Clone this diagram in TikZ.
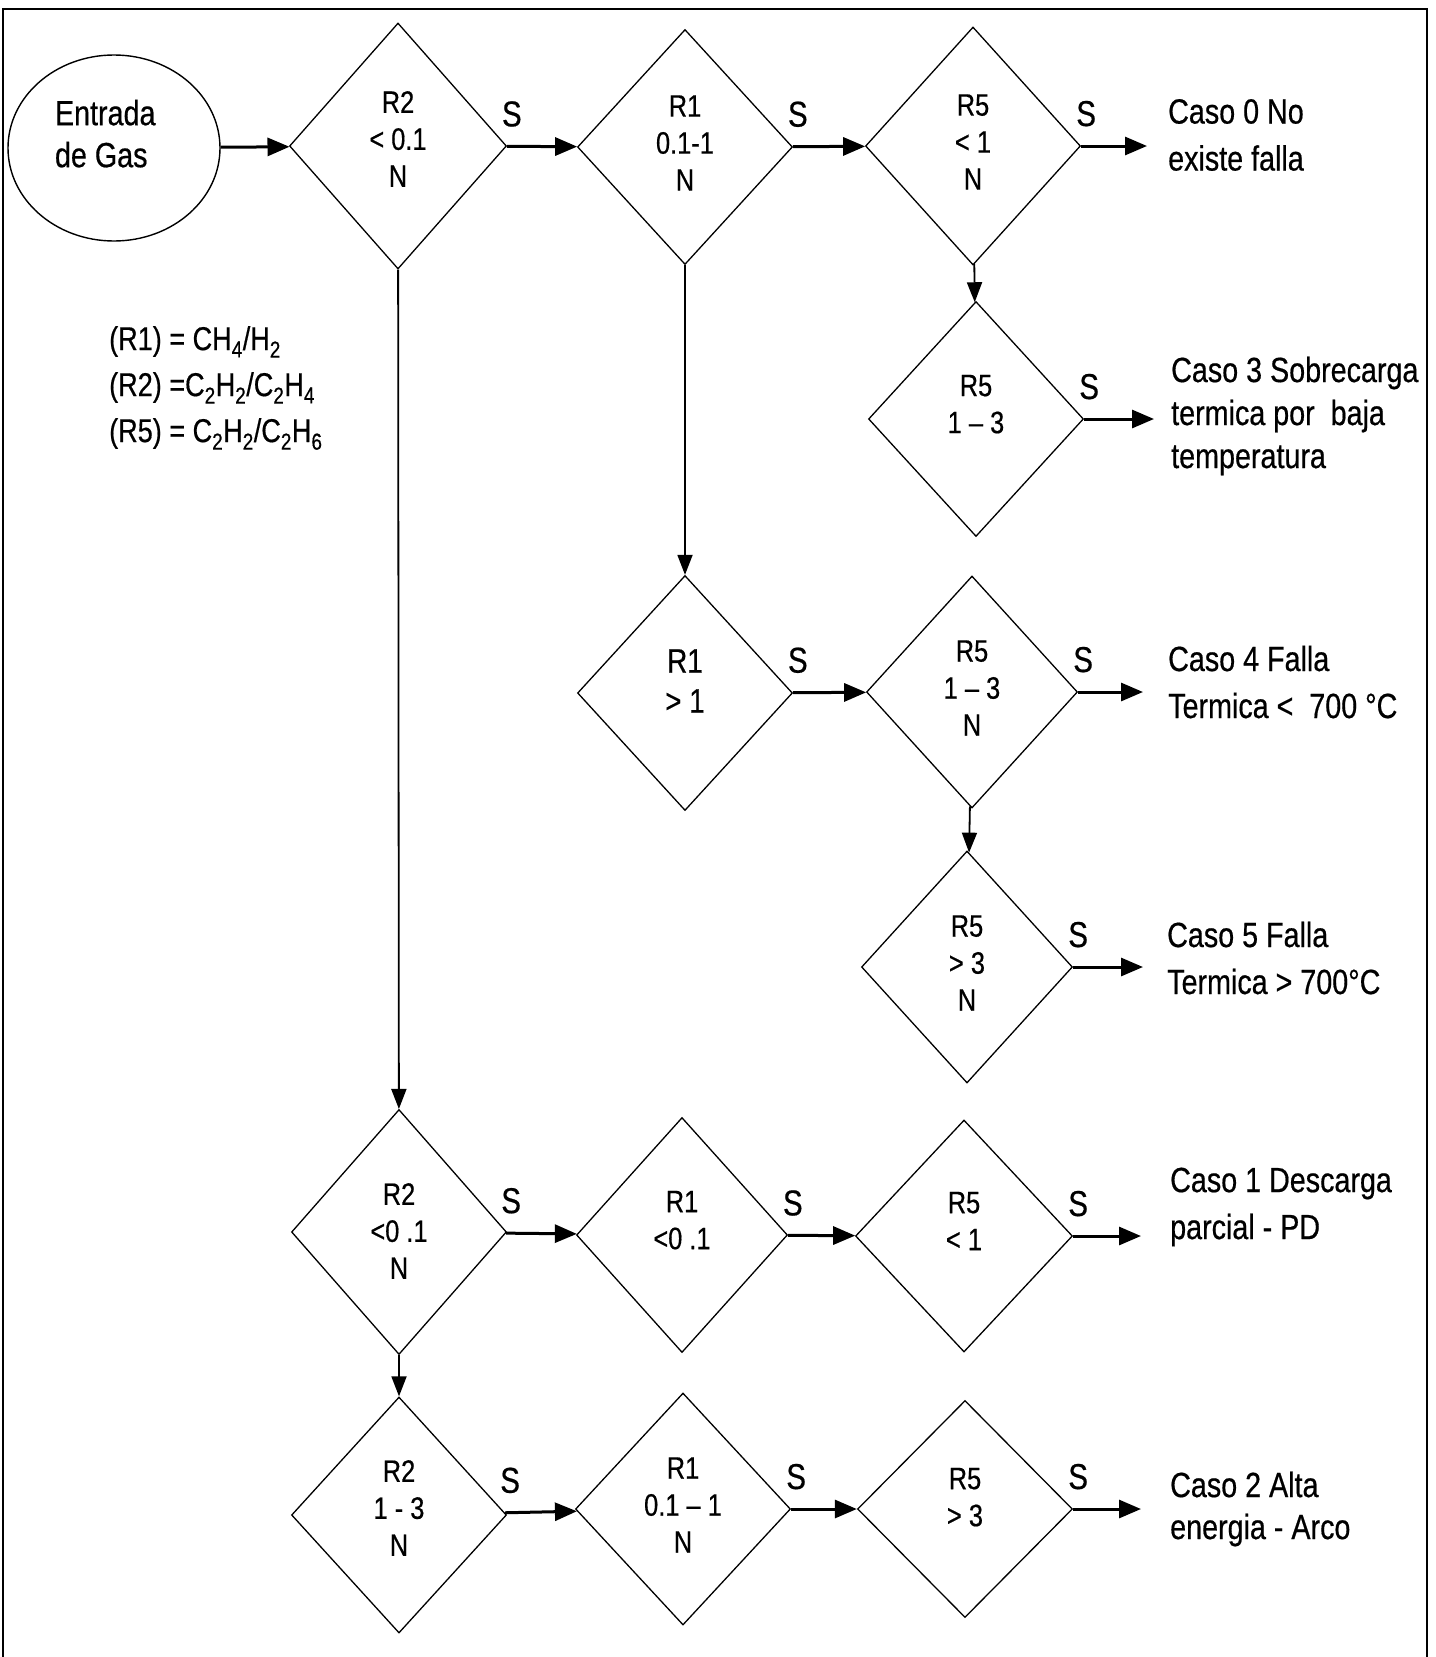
\documentclass[tikz,border=0pt]{standalone}
\usepackage{fontspec}
\setmainfont[FakeStretch=0.82,FakeBold=0.5]{Liberation Sans}
\usetikzlibrary{shapes.geometric,arrows.meta}
\begin{document}
\begin{tikzpicture}[x=1pt,y=-1pt,
  dec/.style={draw, diamond, line width=1.3pt, inner sep=0pt, align=center, text depth=8pt,
    minimum width=215pt, minimum height=235pt, font=\fontsize{31}{37}\selectfont},
  two/.style={text depth=30pt},
  arr/.style={line width=3pt, -{Triangle[length=22pt,width=18pt]}},
  down/.style={line width=1.8pt, -{Triangle[length=20pt,width=15pt]}},
  slab/.style={anchor=base, inner sep=0pt, xshift=5pt, yshift=20pt, font=\fontsize{36}{40}\selectfont},
  caso/.style={anchor=west, align=left, inner sep=0pt, font=\fontsize{35}{47}\selectfont}]
\useasboundingbox (0,0) rectangle (1435,1657);
\draw[line width=1.6pt] (3,1657) -- (3,9) -- (1427,9) -- (1427,1657);
\node[draw, ellipse, line width=1.4pt, minimum width=212pt, minimum height=186pt, align=flush left,
  text width=118pt, text depth=71pt, font=\fontsize{35}{42}\selectfont] (ent) at (114,148) {Entrada\\de Gas};
\node[anchor=west, align=left, inner sep=0pt, font=\fontsize{33}{46}\selectfont] (leg) at (109,388)
  {(R1) = CH\textsubscript{4}/H\textsubscript{2}\\
   (R2) =C\textsubscript{2}H\textsubscript{2}/C\textsubscript{2}H\textsubscript{4}\\
   (R5) = C\textsubscript{2}H\textsubscript{2}/C\textsubscript{2}H\textsubscript{6}};
% first row
\node[dec, minimum width=217pt, minimum height=246pt, text depth=14pt] (d1) at (398,146) {R2\\< 0.1\\N};
\node[dec] (d2) at (685,147) {R1\\0.1-1\\N};
\node[dec, minimum height=238pt] (d3) at (973,146) {R5\\< 1\\N};
\node[dec, two] (d4) at (976,419) {R5\\1 -- 3};
% middle
\node[dec, two, text depth=24pt, font=\fontsize{34}{40}\selectfont] (d5) at (685,693) {R1\\> 1};
\node[dec, minimum width=211pt, minimum height=232pt] (d6) at (972,692) {R5\\1 -- 3\\N};
\node[dec, minimum width=211pt, minimum height=232pt] (d7) at (967,967) {R5\\> 3\\N};
% bottom rows
\node[dec, minimum height=245pt, text depth=2pt] (d8) at (399,1232) {R2\\<0 .1\\N};
\node[dec, two, minimum width=211pt] (d9) at (682,1235) {R1\\<0 .1};
\node[dec, two, minimum width=217pt, minimum height=232pt] (d10) at (964,1236) {R5\\< 1};
\node[dec, minimum height=236pt, text depth=14pt] (d11) at (399,1515) {R2\\1 - 3\\N};
\node[dec, minimum height=232pt] (d12) at (683,1509) {R1\\0.1 -- 1\\N};
\node[dec, two, text depth=24pt, minimum height=217pt] (d13) at (965,1509) {R5\\> 3};
% results
\coordinate (e0) at (1147,146);
\coordinate (e3) at (1154,419);
\coordinate (e4) at (1143,692);
\coordinate (e5) at (1143,967);
\coordinate (e1) at (1141,1236);
\coordinate (e2) at (1141,1509);
\node[caso] (c0) at (1168,135) {Caso 0 No\\existe falla};
\node[caso, font=\fontsize{35}{43}\selectfont] (c3) at (1171,416) {Caso 3 Sobrecarga\\termica por\ \ baja\\temperatura};
\node[caso] (c4) at (1168,682) {Caso 4 Falla\\Termica <\ \ 700 °C};
\node[caso] (c5) at (1167,958) {Caso 5 Falla\\Termica > 700°C};
\node[caso] (c1) at (1170,1207) {Caso 1 Descarga\\parcial - PD};
\node[caso, font=\fontsize{35}{42}\selectfont] (c2) at (1170,1509) {Caso 2 Alta\\energia - Arco};
\draw[arr] (ent) -- (d1);
\draw[arr] (d1) -- node[slab, pos=0]{S} (d2);
\draw[arr] (d2) -- node[slab, pos=0]{S} (d3);
\draw[arr] (d3) -- node[slab, pos=0]{S} (e0);
\draw[down] (d3) -- (d4);
\draw[arr] (d4) -- node[slab, pos=0]{S} (e3);
\draw[down] (d2) -- (d5);
\draw[arr] (d5) -- node[slab, pos=0]{S} (d6);
\draw[arr] (d6) -- node[slab, pos=0]{S} (e4);
\draw[down] (d6) -- (d7);
\draw[arr] (d7) -- node[slab, pos=0]{S} (e5);
\draw[down] (d1) -- (d8);
\draw[arr] (d8) -- node[slab, pos=0]{S} (d9);
\draw[arr] (d9) -- node[slab, pos=0]{S} (d10);
\draw[arr] (d10) -- node[slab, pos=0]{S} (e1);
\draw[down] (d8) -- (d11);
\draw[arr] (d11) -- node[slab, pos=0]{S} (d12);
\draw[arr] (d12) -- node[slab, pos=0]{S} (d13);
\draw[arr] (d13) -- node[slab, pos=0]{S} (e2);
\end{tikzpicture}
\end{document}
